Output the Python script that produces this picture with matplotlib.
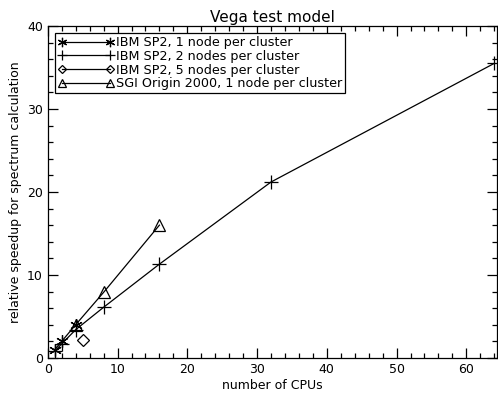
import matplotlib
matplotlib.use("Agg")
import matplotlib.pyplot as plt
from matplotlib.ticker import MultipleLocator

# IBM SP2, 1 node per cluster
sp2_1_cpus = [1, 2, 4]
sp2_1_speedup = [1.0, 2.0, 4.0]
# IBM SP2, 2 nodes per cluster
sp2_2_cpus = [1, 2, 4, 8, 16, 32, 64]
sp2_2_speedup = [0.8, 1.7, 3.4, 6.1, 11.3, 21.2, 35.5]
# IBM SP2, 5 nodes per cluster
sp2_5_cpus = [5]
sp2_5_speedup = [2.1]
# SGI Origin 2000, 1 node per cluster
sgi_cpus = [4, 8, 16]
sgi_speedup = [4.0, 7.9, 16.0]

plt.rcParams["font.family"] = ["DejaVu Sans"]

fig = plt.figure(figsize=(4.98, 3.95), dpi=100)
ax = fig.add_axes([0.096, 0.094, 0.902, 0.840])

kw = dict(color="black", lw=0.9, mfc="none", mec="black", mew=0.9)
ax.plot(sp2_1_cpus, sp2_1_speedup, marker=(6, 2, 0), ms=9,
        label="IBM SP2, 1 node per cluster", **kw)
ax.plot(sp2_2_cpus, sp2_2_speedup, marker="+", ms=10,
        label="IBM SP2, 2 nodes per cluster", **kw)
ax.plot(sp2_5_cpus, sp2_5_speedup, marker="D", ms=6,
        label="IBM SP2, 5 nodes per cluster", **kw)
ax.plot(sgi_cpus, sgi_speedup, marker="^", ms=8,
        label="SGI Origin 2000, 1 node per cluster", **kw)

ax.set_xlim(0, 64.4)
ax.set_ylim(0, 40)
ax.xaxis.set_major_locator(MultipleLocator(10))
ax.xaxis.set_minor_locator(MultipleLocator(2))
ax.yaxis.set_major_locator(MultipleLocator(10))
ax.yaxis.set_minor_locator(MultipleLocator(2))
ax.tick_params(which="both", direction="in", top=True, right=True,
               labelsize=9, width=0.9)
ax.tick_params(which="major", length=7)
ax.tick_params(which="minor", length=3.5)
for s in ax.spines.values():
    s.set_linewidth(0.9)

ax.set_xlabel("number of CPUs", fontsize=9, labelpad=2)
ax.set_ylabel("relative speedup for spectrum calculation", fontsize=9)
ax.set_title("Vega test model", fontsize=11, pad=3)

leg = ax.legend(loc="upper left", numpoints=2, fontsize=9.2, fancybox=False,
                frameon=True, edgecolor="black", borderpad=0.25,
                labelspacing=0.05, handlelength=4.4, handletextpad=0.1,
                borderaxespad=0.55, framealpha=1, markerscale=0.75)
leg.get_frame().set_linewidth(0.9)

fig.savefig("out.png", dpi=100)
